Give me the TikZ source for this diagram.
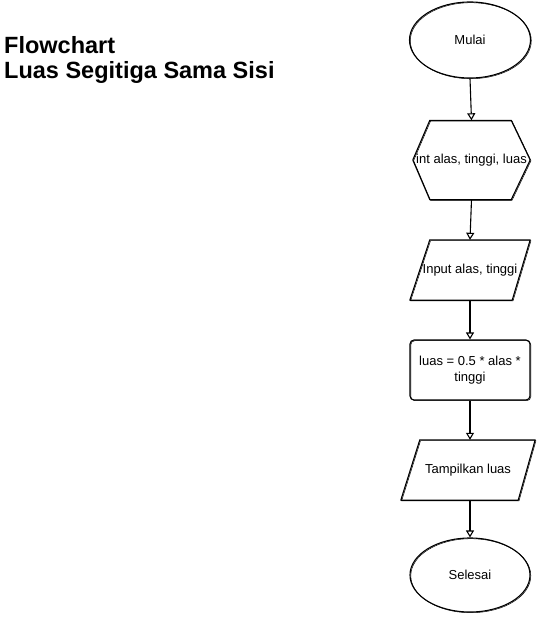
\documentclass[tikz,border=0pt]{standalone}
\usepackage{fontspec}
\setmainfont{Liberation Sans}
\usetikzlibrary{shapes.geometric,arrows.meta}
\tikzset{
  stroke/.style={draw=black, line width=1.1pt, line join=round},
  sketch/.style={stroke, postaction={draw=black, line width=0.5pt, transform canvas={xshift=0.8pt, yshift=-0.7pt}}},
  shapebox/.style={inner sep=0pt, font=\fontsize{13}{15.5}\selectfont, align=center},
  term/.style={shapebox, ellipse, sketch, minimum width=121pt, minimum height=76pt},
  conn/.style={draw=black, line width=1.1pt, -{Triangle[open, length=7pt, width=8pt]}},
  titletext/.style={inner sep=0pt, anchor=base west, font=\fontsize{23.5}{26}\selectfont\bfseries}
}
\begin{document}
\begin{tikzpicture}[x=1pt, y=-1pt]
\useasboundingbox (0,0) rectangle (541,621);

% title
\node[titletext] (t1) at (4,53) {Flowchart};
\node[titletext] (t2) at (4,78) {Luas Segitiga Sama Sisi};

% start
\node[term] (mulai) at (470,40) {Mulai};

% declaration (hexagon)
\node[shapebox, minimum width=117pt, minimum height=79pt] (decl) at (471.5,160) {int alas, tinggi, luas};
\draw[sketch] (decl.west) -- ([xshift=17pt]decl.north west) -- ([xshift=-19pt]decl.north east)
  -- (decl.east) -- ([xshift=-19pt]decl.south east) -- ([xshift=17pt]decl.south west) -- cycle;

% input (parallelogram)
\node[shapebox, minimum width=120pt, minimum height=60pt] (input) at (470,270) {Input alas, tinggi};
\draw[sketch] ([xshift=20pt]input.north west) -- (input.north east)
  -- ([xshift=-18pt]input.south east) -- (input.south west) -- cycle;

% process
\node[shapebox, sketch, rounded corners=4pt, minimum width=120pt, minimum height=60pt] (calc) at (470,370) {luas = 0.5 * alas *\\tinggi};

% output (parallelogram)
\node[shapebox, minimum width=134pt, minimum height=60pt] (output) at (468,470) {Tampilkan luas};
\draw[sketch] ([xshift=19pt]output.north west) -- (output.north east)
  -- ([xshift=-17pt]output.south east) -- (output.south west) -- cycle;

% end
\node[term, minimum width=120pt, minimum height=74pt] (selesai) at (470,575) {Selesai};

% connectors
\draw[conn] (mulai.south) -- (decl.north);
\draw[conn] (decl.south) -- (input.north);
\draw[conn] (input.south) -- (calc.north);
\draw[conn] (calc.south) -- (output.north -| calc.south);
\draw[conn] (output.south -| calc.south) -- (selesai.north);
\end{tikzpicture}
\end{document}
